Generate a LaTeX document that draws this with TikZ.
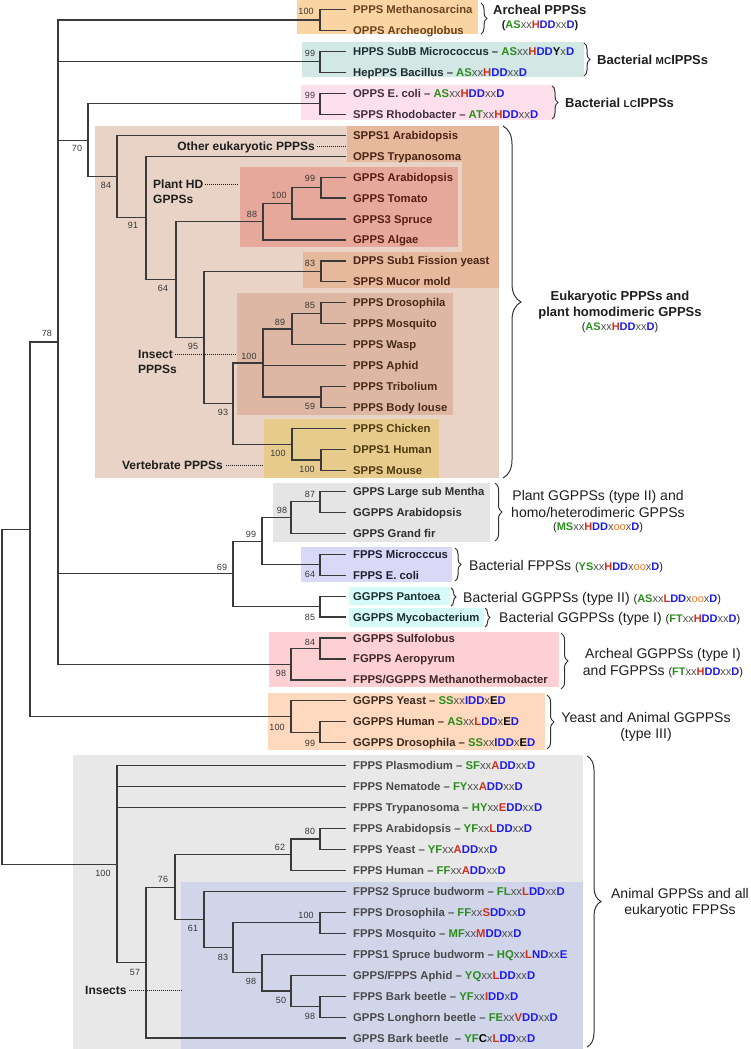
\documentclass[tikz,border=0pt]{standalone}
\usepackage{fontspec}
\setmainfont{Liberation Sans}
\usetikzlibrary{calc,decorations.pathreplacing}

\definecolor{linec}{HTML}{3A3A3A}
\definecolor{annc}{HTML}{1E1E1E}
\definecolor{bracec}{HTML}{333333}
\definecolor{bsc}{HTML}{383838}
\definecolor{mgreen}{HTML}{2C8C1E}
\definecolor{mred}{HTML}{D2301C}
\definecolor{mblue}{HTML}{1C1CF0}
\definecolor{mgray}{HTML}{505050}
\definecolor{morange}{HTML}{F07828}
% boxes
\definecolor{cOr}{HTML}{FAD4A3}
\definecolor{cTe}{HTML}{D2E8E5}
\definecolor{cPk}{HTML}{FDE0EC}
\definecolor{cBr}{HTML}{E8D3C6}
\definecolor{cOb}{HTML}{E6B89C}
\definecolor{cRd}{HTML}{E6A89A}
\definecolor{cIn}{HTML}{DDB7A3}
\definecolor{cVe}{HTML}{E7CB8D}
\definecolor{cGy}{HTML}{E5E5E5}
\definecolor{cLv}{HTML}{D9D9F7}
\definecolor{cCy}{HTML}{D6FAFA}
\definecolor{cPa}{HTML}{FDD0D4}
\definecolor{cPe}{HTML}{FFD9BE}
\definecolor{cLo}{HTML}{E8E8E8}
\definecolor{cBl}{HTML}{D0D5EA}
% leaf text colours
\definecolor{tOr}{HTML}{6B4320}
\definecolor{tTe}{HTML}{1E2E2E}
\definecolor{tPk}{HTML}{403040}
\definecolor{tBr}{HTML}{4A2416}
\definecolor{tRd}{HTML}{561E14}
\definecolor{tIn}{HTML}{4A2A1A}
\definecolor{tVe}{HTML}{4E3A10}
\definecolor{tGy}{HTML}{303030}
\definecolor{tLv}{HTML}{202030}
\definecolor{tCy}{HTML}{1E3030}
\definecolor{tPa}{HTML}{402828}
\definecolor{tPe}{HTML}{3A2A20}
\definecolor{tLo}{HTML}{4A4A4A}

\newcommand\lff{\fontsize{11.3}{13}\selectfont\bfseries}
\newcommand\annf{\fontsize{12}{14}\selectfont\bfseries}
\newcommand\bsf{\fontsize{9}{10}\selectfont}
\newcommand\grf{\fontsize{14}{16}\selectfont}
\newcommand\grbf{\fontsize{13}{15}\selectfont\bfseries}
\newcommand\motf{\fontsize{11}{13}\selectfont\bfseries}

\newcommand\mG[1]{{\color{mgreen}#1}}
\newcommand\mR[1]{{\color{mred}#1}}
\newcommand\mB[1]{{\color{mblue}#1}}
\newcommand\mK[1]{{\color{black}#1}}
\newcommand\mX[1]{{\mdseries\color{mgray}#1}}
\newcommand\mO[1]{{\mdseries\color{morange}#1}}

\newcommand\yU[1]{9.5+20.95*#1}
\newcommand\yL[1]{11.5+20.95*#1}
\newcommand\inode[4]{\path let \p1=(#3), \p2=(#4) in (#2pt,{0.5*\y1+0.5*\y2}) coordinate (#1);}

\tikzset{
  br/.style={draw=linec, line width=1.2pt},
  leaf/.style={anchor=west, inner xsep=7pt, inner ysep=0pt, text height=8pt, text depth=0pt, font=\lff},
  bs/.style={font=\bsf, text=bsc, inner sep=0pt, text height=6.5pt, text depth=0pt},
  ann/.style={font=\annf, text=annc, inner sep=0pt, text height=8.6pt, text depth=0pt},
  grp/.style={font=\grf, text=annc, inner sep=0pt, text height=10pt, text depth=0pt},
  grpb/.style={font=\grbf, text=annc, inner sep=0pt, text height=9.3pt, text depth=0pt},
  mot/.style={font=\motf, text=annc, inner sep=0pt, text height=7.9pt, text depth=0pt},
  dotl/.style={draw=annc, line width=0.9pt, dash pattern=on 1pt off 1pt},
  brc/.style={draw=bracec, line width=1pt, decorate, decoration={brace, amplitude=#1}},
  brc/.default=6pt
}

\begin{document}
\begin{tikzpicture}[x=1pt,y=-1pt]
\useasboundingbox (0,0) rectangle (750,1049);
% ---------- background boxes ----------
\fill[cOr] (297,0) rectangle (478,34);
\fill[cTe] (302,42) rectangle (584,77);
\fill[cPk] (301,85) rectangle (555,120);
\fill[cBr] (95,126) rectangle (499,478);
\fill[cOb] (347,126) rectangle (499,162);
\fill[cOb] (462,126) rectangle (499,288);
\fill[cOb] (303,252) rectangle (499,288);
\fill[cRd] (240,167) rectangle (458,247);
\fill[cIn] (237,293) rectangle (453,415);
\fill[cVe] (264,419) rectangle (439,478);
\fill[cGy] (273,483) rectangle (490,542);
\fill[cLv] (301,547) rectangle (452,582);
\fill[cCy] (349,587) rectangle (450,605);
\fill[cCy] (349,608) rectangle (484,627);
\fill[cPa] (269,632) rectangle (559,687);
\fill[cPe] (268,693) rectangle (545,750);
\fill[cLo] (73,755) rectangle (583,1049);
\fill[cBl] (181,882) rectangle (583,1049);

% ---------- leaves ----------
\node[leaf,text=tOr] (l0) at (346,{\yU{0}}) {PPPS Methanosarcina};
\node[leaf,text=tOr] (l1) at (346,{\yU{1}}) {OPPS Archeoglobus};
\node[leaf,text=tTe] (l2) at (346,{\yU{2}}) {HPPS SubB Micrococcus – \mG{AS}\mX{xx}\mR{H}\mB{DD}\mK{Y}\mX{x}\mB{D}};
\node[leaf,text=tTe] (l3) at (346,{\yU{3}}) {HepPPS Bacillus – \mG{AS}\mX{xx}\mR{H}\mB{DD}\mX{xx}\mB{D}};
\node[leaf,text=tPk] (l4) at (346,{\yU{4}}) {OPPS E. coli – \mG{AS}\mX{xx}\mR{H}\mB{DD}\mX{xx}\mB{D}};
\node[leaf,text=tPk] (l5) at (346,{\yU{5}}) {SPPS Rhodobacter – \mG{AT}\mX{xx}\mR{H}\mB{DD}\mX{xx}\mB{D}};
\node[leaf,text=tBr] (l6) at (346,{\yU{6}}) {SPPS1 Arabidopsis};
\node[leaf,text=tBr] (l7) at (346,{\yU{7}}) {OPPS Trypanosoma};
\node[leaf,text=tRd] (l8) at (346,{\yU{8}}) {GPPS Arabidopsis};
\node[leaf,text=tRd] (l9) at (346,{\yU{9}}) {GPPS Tomato};
\node[leaf,text=tRd] (l10) at (346,{\yU{10}}) {GPPS3 Spruce};
\node[leaf,text=tRd] (l11) at (346,{\yU{11}}) {GPPS Algae};
\node[leaf,text=tBr] (l12) at (346,{\yU{12}}) {DPPS Sub1 Fission yeast};
\node[leaf,text=tBr] (l13) at (346,{\yU{13}}) {SPPS Mucor mold};
\node[leaf,text=tIn] (l14) at (346,{\yU{14}}) {PPPS Drosophila};
\node[leaf,text=tIn] (l15) at (346,{\yU{15}}) {PPPS Mosquito};
\node[leaf,text=tIn] (l16) at (346,{\yU{16}}) {PPPS Wasp};
\node[leaf,text=tIn] (l17) at (346,{\yU{17}}) {PPPS Aphid};
\node[leaf,text=tIn] (l18) at (346,{\yU{18}}) {PPPS Tribolium};
\node[leaf,text=tIn] (l19) at (346,{\yU{19}}) {PPPS Body louse};
\node[leaf,text=tVe] (l20) at (346,{\yU{20}}) {PPPS Chicken};
\node[leaf,text=tVe] (l21) at (346,{\yU{21}}) {DPPS1 Human};
\node[leaf,text=tVe] (l22) at (346,{\yU{22}}) {SPPS Mouse};
\node[leaf,text=tGy] (l23) at (346,{\yU{23}}) {GPPS Large sub Mentha};
\node[leaf,text=tGy] (l24) at (346,{\yU{24}}) {GGPPS Arabidopsis};
\node[leaf,text=tGy] (l25) at (346,{\yU{25}}) {GPPS Grand fir};
\node[leaf,text=tLv] (l26) at (346,{\yU{26}}) {FPPS Microcccus};
\node[leaf,text=tLv] (l27) at (346,{\yU{27}}) {FPPS E. coli};
\node[leaf,text=tCy] (l28) at (346,{\yU{28}}) {GGPPS Pantoea};
\node[leaf,text=tCy] (l29) at (346,{\yU{29}}) {GGPPS Mycobacterium};
\node[leaf,text=tPa] (l30) at (346,{\yU{30}}) {GGPPS Sulfolobus};
\node[leaf,text=tPa] (l31) at (346,{\yU{31}}) {FGPPS Aeropyrum};
\node[leaf,text=tPa] (l32) at (346,{\yU{32}}) {FPPS/GGPPS Methanothermobacter};
\node[leaf,text=tPe] (l33) at (346,{\yU{33}}) {GGPPS Yeast – \mG{SS}\mX{xx}\mB{IDD}\mX{x}\mK{E}\mB{D}};
\node[leaf,text=tPe] (l34) at (346,{\yU{34}}) {GGPPS Human – \mG{AS}\mX{xx}\mR{L}\mB{DD}\mX{x}\mK{E}\mB{D}};
\node[leaf,text=tPe] (l35) at (346,{\yU{35}}) {GGPPS Drosophila – \mG{SS}\mX{xx}\mB{IDD}\mX{x}\mK{E}\mB{D}};
\node[leaf,text=tLo] (l36) at (346,{\yL{36}}) {FPPS Plasmodium – \mG{SF}\mX{xx}\mR{A}\mB{DD}\mX{xx}\mB{D}};
\node[leaf,text=tLo] (l37) at (346,{\yL{37}}) {FPPS Nematode – \mG{FY}\mX{xx}\mR{A}\mB{DD}\mX{xx}\mB{D}};
\node[leaf,text=tLo] (l38) at (346,{\yL{38}}) {FPPS Trypanosoma – \mG{HY}\mX{xx}\mR{E}\mB{DD}\mX{xx}\mB{D}};
\node[leaf,text=tLo] (l39) at (346,{\yL{39}}) {FPPS Arabidopsis – \mG{YF}\mX{xx}\mR{L}\mB{DD}\mX{xx}\mB{D}};
\node[leaf,text=tLo] (l40) at (346,{\yL{40}}) {FPPS Yeast – \mG{YF}\mX{xx}\mR{A}\mB{DD}\mX{xx}\mB{D}};
\node[leaf,text=tLo] (l41) at (346,{\yL{41}}) {FPPS Human – \mG{FF}\mX{xx}\mR{A}\mB{DD}\mX{xx}\mB{D}};
\node[leaf,text=tLo] (l42) at (346,{\yL{42}}) {FPPS2 Spruce budworm – \mG{FL}\mX{xx}\mR{L}\mB{DD}\mX{xx}\mB{D}};
\node[leaf,text=tLo] (l43) at (346,{\yL{43}}) {FPPS Drosophila – \mG{FF}\mX{xx}\mR{S}\mB{DD}\mX{xx}\mB{D}};
\node[leaf,text=tLo] (l44) at (346,{\yL{44}}) {FPPS Mosquito – \mG{MF}\mX{xx}\mR{M}\mB{DD}\mX{xx}\mB{D}};
\node[leaf,text=tLo] (l45) at (346,{\yL{45}}) {FPPS1 Spruce budworm – \mG{HQ}\mX{xx}\mR{L}\mB{ND}\mX{xx}\mB{E}};
\node[leaf,text=tLo] (l46) at (346,{\yL{46}}) {GPPS/FPPS Aphid – \mG{YQ}\mX{xx}\mR{L}\mB{DD}\mX{xx}\mB{D}};
\node[leaf,text=tLo] (l47) at (346,{\yL{47}}) {FPPS Bark beetle – \mG{YF}\mX{xx}\mR{I}\mB{DD}\mX{x}\mB{D}};
\node[leaf,text=tLo] (l48) at (346,{\yL{48}}) {GPPS Longhorn beetle – \mG{FE}\mX{xx}\mR{V}\mB{DD}\mX{xx}\mB{D}};
\node[leaf,text=tLo] (l49) at (346,{\yL{49}}) {GPPS Bark beetle \ – \mG{YF}\mK{C}\mX{x}\mR{L}\mB{DD}\mX{xx}\mB{D}};

% ---------- internal nodes ----------
\inode{AP}{320}{l0}{l1}
\inode{Mc}{320}{l2}{l3}
\inode{Lc}{320}{l4}{l5}
\inode{n99p}{321}{l8}{l9}
\inode{n100p}{292}{n99p}{l10}
\inode{n88}{263}{n100p}{l11}
\inode{n83}{321}{l12}{l13}
\inode{n85}{321}{l14}{l15}
\inode{n89}{292}{n85}{l16}
\inode{n59}{321}{l18}{l19}
\inode{ni}{263}{n89}{n59}
\inode{nhm}{321}{l21}{l22}
\inode{nv}{292}{l20}{nhm}
\inode{n93}{233}{ni}{nv}
\inode{n95}{204}{n83}{n93}
\inode{n64}{176}{n88}{n95}
\inode{n91}{146}{l7}{n64}
\inode{n84}{117}{l6}{n91}
\inode{n70}{88}{Lc}{n84}
\inode{n87}{320}{l23}{l24}
\inode{n98g}{291}{n87}{l25}
\inode{n64b}{320}{l26}{l27}
\inode{n99g}{262}{n98g}{n64b}
\inode{n85b}{320}{l28}{l29}
\inode{n69}{233}{n99g}{n85b}
\inode{n84a}{320}{l30}{l31}
\inode{n98a}{291}{n84a}{l32}
\inode{nB}{58}{AP}{n98a}
\inode{n99y}{320}{l34}{l35}
\inode{ny}{291}{l33}{n99y}
\inode{nA}{30}{nB}{ny}
\inode{n80}{320}{l39}{l40}
\inode{n62}{291}{n80}{l41}
\inode{n100d}{320}{l43}{l44}
\inode{n98c}{320}{l47}{l48}
\inode{n50}{291}{l46}{n98c}
\inode{n98b}{262}{l45}{n50}
\inode{n83b}{233}{n100d}{n98b}
\inode{n61}{204}{l42}{n83b}
\inode{n76}{175}{n62}{n61}
\inode{n57}{146}{n76}{l49}
\inode{nF}{117}{l36}{n57}
\inode{nR}{2}{nA}{nF}

% ---------- branches ----------
\draw[br] (AP) |- (l0.west) (AP) |- (l1.west);
\draw[br] (Mc) |- (l2.west) (Mc) |- (l3.west);
\draw[br] (Lc) |- (l4.west) (Lc) |- (l5.west);
\draw[br] (n99p) |- (l8.west) (n99p) |- (l9.west);
\draw[br] (n100p) |- (n99p) (n100p) |- (l10.west);
\draw[br] (n88) |- (n100p) (n88) |- (l11.west);
\draw[br] (n83) |- (l12.west) (n83) |- (l13.west);
\draw[br] (n85) |- (l14.west) (n85) |- (l15.west);
\draw[br] (n89) |- (n85) (n89) |- (l16.west);
\draw[br] (n59) |- (l18.west) (n59) |- (l19.west);
\draw[br] (ni) |- (n89) (ni) |- (l17.west) (ni) |- (n59);
\draw[br] (nhm) |- (l21.west) (nhm) |- (l22.west);
\draw[br] (nv) |- (l20.west) (nv) |- (nhm);
\draw[br] (n93) |- (ni) (n93) |- (nv);
\draw[br] (n95) |- (n83) (n95) |- (n93);
\draw[br] (n64) |- (n88) (n64) |- (n95);
\draw[br] (n91) |- (l7.west) (n91) |- (n64);
\draw[br] (n84) |- (l6.west) (n84) |- (n91);
\draw[br] (n70) |- (Lc) (n70) |- (n84);
\draw[br] (n87) |- (l23.west) (n87) |- (l24.west);
\draw[br] (n98g) |- (n87) (n98g) |- (l25.west);
\draw[br] (n64b) |- (l26.west) (n64b) |- (l27.west);
\draw[br] (n99g) |- (n98g) (n99g) |- (n64b);
\draw[br] (n85b) |- (l28.west) (n85b) |- (l29.west);
\draw[br] (n69) |- (n99g) (n69) |- (n85b);
\draw[br] (n84a) |- (l30.west) (n84a) |- (l31.west);
\draw[br] (n98a) |- (n84a) (n98a) |- (l32.west);
\draw[br] (nB) |- (AP) (nB) |- (Mc) (nB) |- (n70) (nB) |- (n69) (nB) |- (n98a);
\draw[br] (n99y) |- (l34.west) (n99y) |- (l35.west);
\draw[br] (ny) |- (l33.west) (ny) |- (n99y);
\draw[br] (nA) |- (nB) (nA) |- (ny);
\draw[br] (n80) |- (l39.west) (n80) |- (l40.west);
\draw[br] (n62) |- (n80) (n62) |- (l41.west);
\draw[br] (n100d) |- (l43.west) (n100d) |- (l44.west);
\draw[br] (n98c) |- (l47.west) (n98c) |- (l48.west);
\draw[br] (n50) |- (l46.west) (n50) |- (n98c);
\draw[br] (n98b) |- (l45.west) (n98b) |- (n50);
\draw[br] (n83b) |- (n100d) (n83b) |- (n98b);
\draw[br] (n61) |- (l42.west) (n61) |- (n83b);
\draw[br] (n76) |- (n62) (n76) |- (n61);
\draw[br] (n57) |- (n76) (n57) |- (l49.west);
\draw[br] (nF) |- (l36.west) (nF) |- (l37.west) (nF) |- (l38.west) (nF) |- (n57);
\draw[br] (nR) |- (nA) (nR) |- (nF);

% ---------- bootstrap values ----------
\node[bs] (b1) at (306,11) {100};
\node[bs] (b2) at (310,53) {99};
\node[bs] (b3) at (310,95) {99};
\node[bs] (b4) at (77,148) {70};
\node[bs] (b5) at (106,185) {84};
\node[bs] (b6) at (133,225) {91};
\node[bs] (b7) at (163,288) {64};
\node[bs] (b8) at (310,178) {99};
\node[bs] (b9) at (279,195) {100};
\node[bs] (b10) at (252,214) {88};
\node[bs] (b11) at (310,263) {83};
\node[bs] (b12) at (310,305) {85};
\node[bs] (b13) at (280,322) {89};
\node[bs] (b14) at (193,346) {95};
\node[bs] (b15) at (249,356) {100};
\node[bs] (b16) at (223,412) {93};
\node[bs] (b17) at (310,406) {59};
\node[bs] (b18) at (278,453) {100};
\node[bs] (b19) at (307,469) {100};
\node[bs] (b20) at (47,333) {78};
\node[bs] (b21) at (310,494) {87};
\node[bs] (b22) at (282,510) {98};
\node[bs] (b23) at (251,534) {99};
\node[bs] (b24) at (222,567) {69};
\node[bs] (b25) at (310,574) {64};
\node[bs] (b26) at (310,617) {85};
\node[bs] (b27) at (310,642) {84};
\node[bs] (b28) at (281,673) {98};
\node[bs] (b29) at (277,727) {100};
\node[bs] (b30) at (310,743) {99};
\node[bs] (b31) at (103,873) {100};
\node[bs] (b32) at (310,831) {80};
\node[bs] (b33) at (280,847) {62};
\node[bs] (b34) at (163,879) {76};
\node[bs] (b35) at (193,928) {61};
\node[bs] (b36) at (135,972) {57};
\node[bs] (b37) at (223,957) {83};
\node[bs] (b38) at (306,915) {100};
\node[bs] (b39) at (251,981) {98};
\node[bs] (b40) at (281,1000) {50};
\node[bs] (b41) at (310,1016) {98};

% ---------- annotations with dotted leaders ----------
\node[ann,anchor=east] (a1) at (315,146) {Other eukaryotic PPPSs};
\coordinate (a1e) at (347,146);
\draw[dotl] ([xshift=2pt]a1.east) -- (a1e);
\node[ann,anchor=west] (a2) at (153,184) {Plant HD};
\node[ann,anchor=west] (a2b) at (153,199) {GPPSs};
\coordinate (a2e) at (239,184);
\draw[dotl] ([xshift=2pt]a2.east) -- (a2e);
\node[ann,anchor=west] (a3) at (138,354) {Insect};
\node[ann,anchor=west] (a3b) at (138,369) {PPPSs};
\coordinate (a3e) at (237,354);
\draw[dotl] ([xshift=2pt]a3.east) -- (a3e);
\node[ann,anchor=east] (a4) at (223,465) {Vertebrate PPPSs};
\coordinate (a4e) at (264,465);
\draw[dotl] ([xshift=3pt]a4.east) -- (a4e);
\node[ann,anchor=west] (a5) at (85,990) {Insects};
\coordinate (a5e) at (181,990);
\draw[dotl] ([xshift=2pt]a5.east) -- (a5e);

% ---------- braces ----------
\draw[brc=6pt] (481,3) -- (481,34);
\draw[brc=6pt] (584,43) -- (584,76);
\draw[brc=6pt] (552,86) -- (552,119);
\draw[brc=18pt] (503,126) -- (503,478);
\draw[brc=7pt] (495,483) -- (495,541);
\draw[brc=6pt] (455,548) -- (455,581);
\draw[brc=5pt] (451,588) -- (451,606);
\draw[brc=5pt] (485,608) -- (485,627);
\draw[brc=7pt] (561,633) -- (561,689);
\draw[brc=7pt] (547,695) -- (547,749);
\draw[brc=14pt] (587,756) -- (587,1047);

% ---------- group labels ----------
\node[grpb,anchor=west] (g1) at (493,10) {Archeal PPPSs};
\node[mot] (g1m) at (540,25) {(\mG{AS}\mX{xx}\mR{H}\mB{DD}\mX{xx}\mB{D})};
\node[grpb,anchor=west] (g2) at (597,60) {Bacterial {\fontsize{10}{12}\selectfont MC}IPPSs};
\node[grpb,anchor=west] (g3) at (565,103) {Bacterial {\fontsize{10}{12}\selectfont LC}IPPSs};
\node[grpb] (g4a) at (620,296) {Eukaryotic PPPSs and};
\node[grpb] (g4b) at (620,312) {plant homodimeric GPPSs};
\node[mot] (g4c) at (620,327) {{\mdseries(}\mG{AS}\mX{xx}\mR{H}\mB{DD}\mX{xx}\mB{D}{\mdseries)}};
\node[grp] (g5a) at (598,495) {Plant GGPPSs (type II) and};
\node[grp] (g5b) at (598,512) {homo/heterodimeric GPPSs};
\node[mot] (g5c) at (598,527) {{\mdseries(}\mG{MS}\mX{xx}\mR{H}\mB{DD}\mX{x}\mO{oo}\mX{x}\mB{D}{\mdseries)}};
\node[grp,anchor=west] (g6) at (469,565) {Bacterial FPPSs {\motf{\mdseries(}\mG{YS}\mX{xx}\mR{H}\mB{DD}\mX{x}\mO{oo}\mX{x}\mB{D}{\mdseries)}}};
\node[grp,anchor=west] (g7) at (463,597) {Bacterial GGPPSs (type II) {\motf{\mdseries(}\mG{AS}\mX{xx}\mR{L}\mB{DD}\mX{x}\mO{oo}\mX{x}\mB{D}{\mdseries)}}};
\node[grp,anchor=west] (g8) at (499,617) {Bacterial GGPPSs (type I) {\motf{\mdseries(}\mG{FT}\mX{xx}\mR{H}\mB{DD}\mX{xx}\mB{D}{\mdseries)}}};
\node[grp] (g9a) at (663,653) {Archeal GGPPSs (type I)};
\node[grp] (g9b) at (663,670) {and FGPPSs {\motf{\mdseries(}\mG{FT}\mX{xx}\mR{H}\mB{DD}\mX{xx}\mB{D}{\mdseries)}}};
\node[grp] (g10a) at (646,717) {Yeast and Animal GGPPSs};
\node[grp] (g10b) at (646,733) {(type III)};
\node[grp] (g11a) at (680,893) {Animal GPPSs and all};
\node[grp] (g11b) at (680,909) {eukaryotic FPPSs};
\end{tikzpicture}
\end{document}
